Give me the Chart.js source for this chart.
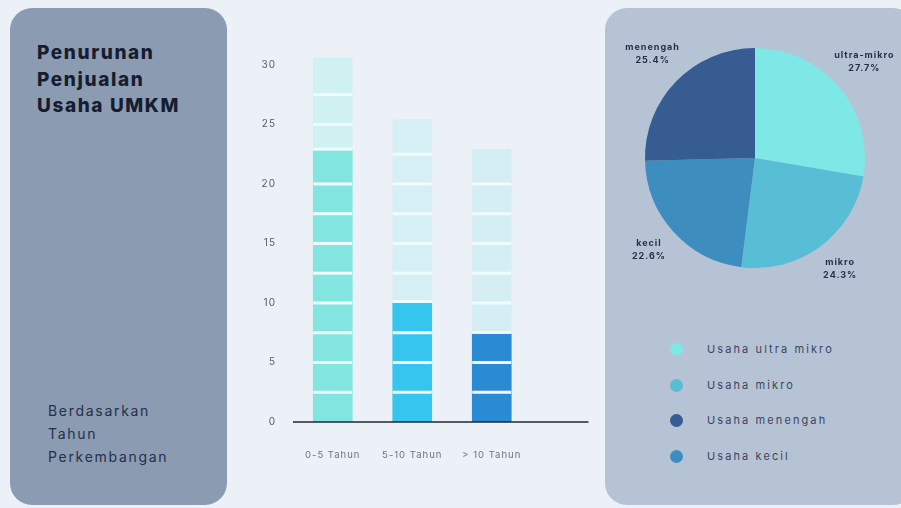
<!DOCTYPE html>
<html>
<head>
  <title>Penurunan Penjualan Usaha UMKM</title>
  <script src="https://cdn.jsdelivr.net/npm/chart.js"></script>
  <style>
    body { margin: 0; width: 901px; height: 508px; background: #ecf1f7; position: relative; overflow: hidden; font-family: Inter, "Noto Sans", sans-serif; }
    .panel-kiri { position: absolute; left: 10px; top: 8px; width: 217px; height: 497px; background: #8b9bb2; border-radius: 22px; }
    .panel-kanan { position: absolute; left: 605px; top: 8px; width: 310px; height: 497px; background: #b6c3d4; border-radius: 22px; }
    .judul { position: absolute; left: 37px; top: 40px; font-weight: 800; font-size: 19px; letter-spacing: 1.6px; line-height: 26.5px; color: #161d2e; }
    .sub { position: absolute; left: 48px; top: 399px; font-size: 14px; letter-spacing: 1.7px; line-height: 23px; color: #25304a; }
    #wrapBar { position: absolute; left: 240px; top: 30px; width: 360px; height: 450px; }
    #wrapPie { position: absolute; left: 605px; top: 10px; width: 295px; height: 300px; }
    #legenda { position: absolute; left: 670px; top: 341px; }
    .item { height: 35.5px; display: flex; align-items: flex-start; }
    .dot { width: 13px; height: 13px; border-radius: 50%; margin-right: 24px; margin-top: 2px; }
    .teks { font-size: 11px; letter-spacing: 2.1px; color: #3a4660; line-height: 17px; }
  </style>
</head>
<body>
  <div class="panel-kiri"></div>
  <div class="panel-kanan"></div>
  <div class="judul">Penurunan<br>Penjualan<br>Usaha UMKM</div>
  <div class="sub">Berdasarkan<br>Tahun<br>Perkembangan</div>
  <div id="wrapBar"><canvas id="barChart"></canvas></div>
  <div id="wrapPie"><canvas id="pieChart"></canvas></div>
  <div id="legenda"></div>
  <script>
    // data batang
    const kategori = ['0-5 Tahun', '5-10 Tahun', '> 10 Tahun'];
    const nilaiTerisi = [22.8, 10, 7.4];
    const nilaiTotal = [30.6, 25.4, 22.9];
    const tickY = [0, 5, 10, 15, 20, 25, 30];
    const warnaTerisi = ['#82e5df', '#36c5ee', '#2a8bd4'];
    const warnaSisa = ['#d0f1f2', '#d5eff4', '#d5eef3'];

    // data pie
    const segmen = ['ultra-mikro', 'mikro', 'kecil', 'menengah'];
    const persen = [27.7, 24.3, 22.6, 25.4];
    const warnaPie = ['#7ee8e6', '#58bed5', '#3e8dbf', '#375c92'];
    const legendaTeks = ['Usaha ultra mikro', 'Usaha mikro', 'Usaha menengah', 'Usaha kecil'];
    const legendaIdx = [0, 1, 3, 2];

    const langkah = 2.5; // tinggi tiap potongan batang

    // jarak antar huruf untuk teks di canvas
    const spasiPlugin = {
      id: 'spasi',
      beforeDraw(chart, args, opts) { chart.ctx.letterSpacing = opts.jarak || '0px'; }
    };

    // garis putih pemisah potongan
    const potonganPlugin = {
      id: 'potongan',
      afterDatasetsDraw(chart) {
        const ctx = chart.ctx;
        const y = chart.scales.y;
        const metaIsi = chart.getDatasetMeta(0);
        ctx.save();
        ctx.fillStyle = '#effbfc';
        metaIsi.data.forEach(function (bar, j) {
          const isi = nilaiTerisi[j];
          const total = nilaiTotal[j];
          const w = bar.width;
          const x0 = bar.x - w / 2;
          for (let v = langkah; v < total - 0.8; v += langkah) {
            if (Math.abs(v - isi) < 0.5) continue;
            const py = y.getPixelForValue(v);
            ctx.fillRect(x0, py - 1.5, w, 3);
          }
          // celah di atas bagian terisi
          const pt = y.getPixelForValue(isi);
          ctx.fillRect(x0, pt - 3, w, 3);
        });
        ctx.restore();
      }
    };

    // garis dasar sumbu x
    const dasarPlugin = {
      id: 'dasar',
      afterDraw(chart) {
        const ctx = chart.ctx;
        const a = chart.chartArea;
        const py = chart.scales.y.getPixelForValue(0);
        ctx.save();
        ctx.strokeStyle = '#1e2633';
        ctx.lineWidth = 1.5;
        ctx.beginPath();
        ctx.moveTo(a.left, py);
        ctx.lineTo(a.right + 57, py);
        ctx.stroke();
        ctx.restore();
      }
    };

    new Chart(document.getElementById('barChart'), {
      type: 'bar',
      data: {
        labels: kategori,
        datasets: [
          { data: nilaiTerisi, backgroundColor: warnaTerisi, barThickness: 39 },
          { data: nilaiTotal, backgroundColor: warnaSisa, barThickness: 39 }
        ]
      },
      options: {
        responsive: true,
        maintainAspectRatio: false,
        animation: false,
        layout: { padding: { left: 0, right: 68.5, top: 20, bottom: 18 } },
        plugins: { legend: { display: false }, tooltip: { enabled: false }, spasi: { jarak: '1px' } },
        scales: {
          x: {
            stacked: true,
            grid: { display: false, drawTicks: false },
            border: { display: false },
            ticks: { padding: 27, color: '#6b7383', font: { family: 'Inter', size: 9.5 } },
            afterFit(s) { s.height = 40; }
          },
          y: {
            stacked: false,
            min: 0,
            max: 31,
            grid: { display: false, drawTicks: false },
            border: { display: false },
            afterBuildTicks(s) { s.ticks = tickY.map(function (v) { return { value: v }; }); },
            ticks: { padding: 17, color: '#555d6b', font: { family: 'Inter', size: 10 } },
            afterFit(s) { s.width = 53; }
          }
        }
      },
      plugins: [spasiPlugin, potonganPlugin, dasarPlugin]
    });

    // label di luar pie
    const labelPiePlugin = {
      id: 'labelPie',
      afterDatasetsDraw(chart) {
        const ctx = chart.ctx;
        ctx.save();
        ctx.fillStyle = '#24304a';
        ctx.font = 'bold 9px Inter';
        ctx.letterSpacing = '1px';
        ctx.textAlign = 'center';
        ctx.textBaseline = 'middle';
        chart.getDatasetMeta(0).data.forEach(function (arc, i) {
          const mid = (arc.startAngle + arc.endAngle) / 2;
          const r = arc.outerRadius * 1.3;
          const px = arc.x + Math.cos(mid) * r;
          const py = arc.y + Math.sin(mid) * r - 5;
          ctx.fillText(segmen[i], px, py - 6);
          ctx.fillText(persen[i].toFixed(1) + '%', px, py + 7);
        });
        ctx.restore();
      }
    };

    new Chart(document.getElementById('pieChart'), {
      type: 'pie',
      data: {
        labels: segmen,
        datasets: [{ data: persen, backgroundColor: warnaPie, borderWidth: 0 }]
      },
      options: {
        responsive: true,
        maintainAspectRatio: false,
        animation: false,
        layout: { padding: { left: 40, right: 35, top: 38, bottom: 42 } },
        plugins: { legend: { display: false }, tooltip: { enabled: false } }
      },
      plugins: [labelPiePlugin]
    });

    // legenda
    const legenda = document.getElementById('legenda');
    legendaIdx.forEach(function (idx, k) {
      const item = document.createElement('div');
      item.className = 'item';
      item.innerHTML = '<div class="dot" style="background:' + warnaPie[idx] + '"></div><div class="teks">' + legendaTeks[k] + '</div>';
      legenda.appendChild(item);
    });
  </script>
</body>
</html>
